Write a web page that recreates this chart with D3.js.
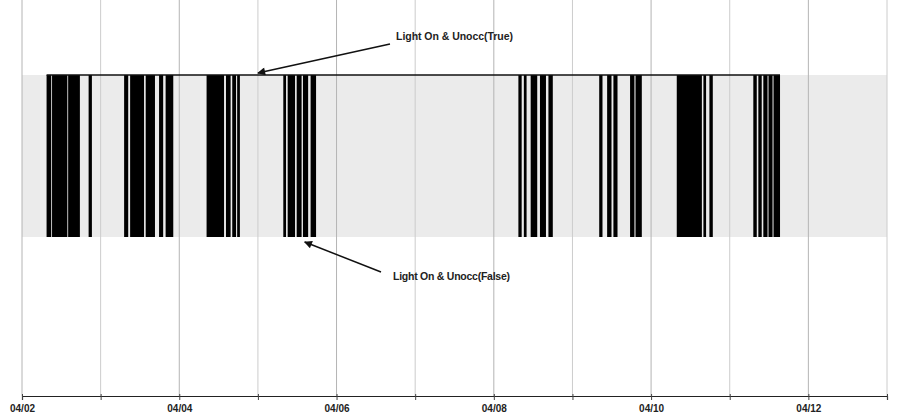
<!DOCTYPE html>
<html><head><meta charset="utf-8">
<script src="https://cdn.jsdelivr.net/npm/d3@7"></script>
<style>html,body{margin:0;padding:0;background:#fff;}svg{display:block;}</style>
</head><body><svg id="c" width="912" height="417"></svg>
<script>
// x domain and tick labels
const domainStart = "2011-04-02T00:00";
const domainEnd = "2011-04-13T00:00";
const tickLabels = ["04/02","04/04","04/06","04/08","04/10","04/12"];
// intervals where "Light On & Unocc" is True
const trueStarts = [
 "2011-04-02T07:30","2011-04-02T09:10","2011-04-02T14:05","2011-04-02T20:20",
 "2011-04-03T07:10","2011-04-03T09:00","2011-04-03T13:45","2011-04-03T17:50","2011-04-03T19:50",
 "2011-04-04T08:20","2011-04-04T14:15","2011-04-04T16:10","2011-04-04T17:40",
 "2011-04-05T07:45","2011-04-05T09:05","2011-04-05T11:50","2011-04-05T13:45","2011-04-05T16:05",
 "2011-04-08T07:30","2011-04-08T09:10","2011-04-08T11:15","2011-04-08T14:05","2011-04-08T16:40",
 "2011-04-09T08:10","2011-04-09T10:35","2011-04-09T12:30","2011-04-09T17:35","2011-04-09T19:15",
 "2011-04-10T07:50","2011-04-10T15:58","2011-04-10T17:48",
 "2011-04-11T07:12","2011-04-11T08:44","2011-04-11T10:15","2011-04-11T11:50","2011-04-11T13:22"];
const trueEnds = [
 "2011-04-02T08:55","2011-04-02T13:50","2011-04-02T17:40","2011-04-02T21:20",
 "2011-04-03T08:25","2011-04-03T13:15","2011-04-03T16:35","2011-04-03T19:05","2011-04-03T22:10",
 "2011-04-04T13:40","2011-04-04T15:40","2011-04-04T17:20","2011-04-04T18:30",
 "2011-04-05T08:35","2011-04-05T11:20","2011-04-05T13:20","2011-04-05T15:20","2011-04-05T17:45",
 "2011-04-08T08:30","2011-04-08T10:00","2011-04-08T13:15","2011-04-08T15:55","2011-04-08T18:00",
 "2011-04-09T09:10","2011-04-09T11:55","2011-04-09T13:45","2011-04-09T18:55","2011-04-09T21:10",
 "2011-04-10T15:30","2011-04-10T16:47","2011-04-10T18:50",
 "2011-04-11T08:15","2011-04-11T09:46","2011-04-11T11:32","2011-04-11T13:04","2011-04-11T15:21"];
const annTrue = {label:"Light On & Unocc(True)", at:"2011-04-05T00:00"};
const annFalse = {label:"Light On & Unocc(False)", at:"2011-04-05T15:30"};

const parse = d3.utcParse("%Y-%m-%dT%H:%M");
const svg = d3.select("#c");
const x = d3.scaleUtc().domain([parse(domainStart), parse(domainEnd)]).range([22, 887]);
const y = d3.scaleLinear().domain([0, 1]).range([237, 75]);
const axisY = 396;

const days = d3.utcDay.range(parse(domainStart), d3.utcDay.offset(parse(domainEnd), 1));

// band (False state area)
svg.append("rect").attr("x", x.range()[0]).attr("width", x.range()[1] - x.range()[0])
  .attr("y", y(1)).attr("height", y(0) - y(1)).attr("fill", "#ebebeb");

// gridlines
svg.append("g").selectAll("line").data(days).join("line")
  .attr("x1", d => x(d)).attr("x2", d => x(d)).attr("y1", 0).attr("y2", axisY)
  .attr("stroke", (d, i) => i % 2 === 0 ? "#b4b4b4" : "#cccccc").attr("stroke-width", 1);

// True intervals
const intervals = trueStarts.map((s, i) => ({s: parse(s), e: parse(trueEnds[i])}));
svg.append("g").selectAll("rect").data(intervals).join("rect")
  .attr("x", d => x(d.s)).attr("width", d => Math.max(1, x(d.e) - x(d.s)))
  .attr("y", y(1)).attr("height", y(0) - y(1)).attr("fill", "#000");

// top line of signal
svg.append("line").attr("x1", x(intervals[0].s)).attr("x2", x(intervals[intervals.length - 1].e))
  .attr("y1", y(1)).attr("y2", y(1)).attr("stroke", "#111").attr("stroke-width", 1.5);

// axis
const axis = d3.axisBottom(x).tickValues(days).tickSize(4)
  .tickFormat((d, i) => i % 2 === 0 ? tickLabels[i / 2] || "" : "");
const ag = svg.append("g").attr("transform", `translate(0,${axisY})`).call(axis);
ag.select(".domain").attr("stroke", "#222").attr("stroke-width", 1.2);
ag.selectAll(".tick line").attr("stroke", "#444").attr("y1", -2);
ag.selectAll(".tick text").attr("font-family", "Liberation Sans, Arial, sans-serif")
  .attr("font-size", 10).attr("font-weight", "bold").attr("fill", "#222").attr("dy", "0.9em");

// annotations
const defs = svg.append("defs");
defs.append("marker").attr("id", "ah").attr("viewBox", "0 0 10 10").attr("refX", 9).attr("refY", 5)
  .attr("markerWidth", 10).attr("markerHeight", 8).attr("markerUnits", "userSpaceOnUse").attr("orient", "auto")
  .append("path").attr("d", "M0,0L10,5L0,10z").attr("fill", "#111");

function ann(a, tx, ty, sx, sy, ex, ey) {
  svg.append("line").attr("x1", sx).attr("y1", sy).attr("x2", ex).attr("y2", ey)
    .attr("stroke", "#111").attr("stroke-width", 1.5).attr("marker-end", "url(#ah)");
  svg.append("text").attr("x", tx).attr("y", ty).text(a.label)
    .attr("font-family", "Liberation Sans, Arial, sans-serif").attr("font-size", 10.5)
    .attr("fill", "#222").attr("font-weight", "bold").attr("textLength", 117);
}
ann(annTrue, 396, 40, 390, 44, x(parse(annTrue.at)), y(1) - 2);
ann(annFalse, 393, 280, 381, 272, x(parse(annFalse.at)) - 4, y(0) + 5);
</script></body></html>
